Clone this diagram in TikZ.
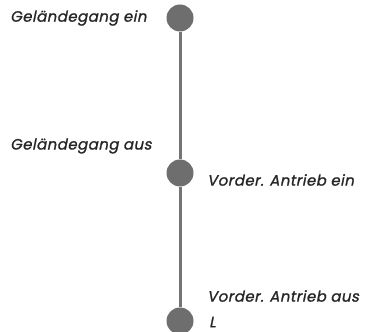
\documentclass[tikz,border=0pt]{standalone}
\usepackage{fontspec}
\newfontfamily\labfont{Poppins}[FakeSlant=0.2,FakeBold=1.2,LetterSpace=3]
\begin{document}
\begin{tikzpicture}[x=1pt,y=1pt,
  dot/.style={circle,fill=dotgray,draw=none,minimum size=27pt,inner sep=0pt},
  lab/.style={font=\labfont\fontsize{15}{17}\selectfont,text=black!85,inner sep=0pt},
  stem/.style={draw=stemgray,line width=3pt}]
\definecolor{dotgray}{HTML}{6E6E6E}
\definecolor{stemgray}{HTML}{747474}
\useasboundingbox (0,0) rectangle (367,332);
\node[dot] (d1) at (180,314) {};
\node[dot] (d2) at (180,159) {};
\node[dot] (d3) at (180,11) {};
\draw[stem] (d1) -- (d2);
\draw[stem] (d2) -- (d3);
\node[lab,anchor=west] (t1) at (10,314) {Geländegang ein};
\node[lab,anchor=west] (t2) at (10,186) {Geländegang aus};
\node[lab,anchor=west] (t3) at (207,152) {Vorder. Antrieb ein};
\node[lab,anchor=west] (t4) at (207,36) {Vorder. Antrieb aus};
\node[lab,anchor=west] (t5) at (209,10) {L};
\end{tikzpicture}
\end{document}
